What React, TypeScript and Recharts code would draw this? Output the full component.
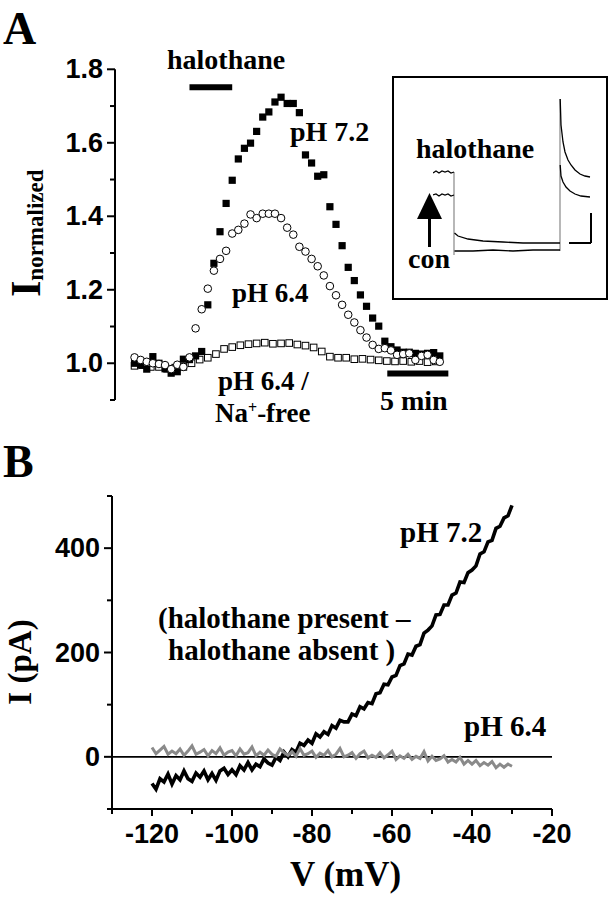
import React from 'react';
import { ScatterChart, Scatter, XAxis, YAxis, ReferenceLine, LineChart, Line } from 'recharts';

// ---------- Panel A: normalized current vs time ----------
const PH72_INTERVAL_MIN = 0.5;
const PH72_VALUES = [
  1.0, 0.995, 0.984, 1.018, 1.0, 0.985, 0.973, 0.977, 1.011, 1.01, 1.02, 1.032,
  1.159, 1.272, 1.358, 1.435, 1.498, 1.556, 1.585, 1.599, 1.631, 1.67, 1.684, 1.711,
  1.724, 1.707, 1.707, 1.682, 1.567, 1.545, 1.509, 1.513, 1.426, 1.378, 1.32, 1.261,
  1.225, 1.186, 1.155, 1.123, 1.101, 1.06, 1.045, 1.036, 1.03, 1.03, 1.027, 1.025,
  1.027, 1.029, 1.02,
];
const PH64_INTERVAL_MIN = 0.5;
const PH64_VALUES = [
  1.016, 1.009, 1.004, 1.0, 0.998, 0.995, 0.984, 0.996, 0.99, 1.016, 1.095, 1.147,
  1.203, 1.252, 1.284, 1.306, 1.353, 1.363, 1.38, 1.405, 1.395, 1.407, 1.407, 1.407,
  1.395, 1.369, 1.35, 1.317, 1.304, 1.284, 1.264, 1.239, 1.21, 1.185, 1.159, 1.132,
  1.111, 1.09, 1.07, 1.05, 1.039, 1.041, 1.035, 1.023, 1.025, 1.027, 1.009, 1.02,
  1.023, 1.009, 1.004,
];
const NAFREE_INTERVAL_MIN = 2 / 3;
const NAFREE_VALUES = [
  0.993, 0.995, 0.99, 0.99, 0.985, 0.988, 0.99, 1.0, 1.01, 1.015, 1.025, 1.039,
  1.044, 1.049, 1.052, 1.054, 1.056, 1.053, 1.054, 1.055, 1.051, 1.048, 1.043, 1.032,
  1.018, 1.015, 1.015, 1.011, 1.012, 1.01, 1.008, 1.006, 1.005, 1.006, 1.004, 1.006,
  1.003, 1.005,
];
const HALOTHANE_BAR_MIN = [4.5, 8.0];
const HALOTHANE_BAR_LEVEL = 1.751;
const FIVE_MIN_BAR = [20.7, 25.7];
const FIVE_MIN_BAR_LEVEL = 0.972;
const A_Y_TICKS = [0.9, 1.0, 1.1, 1.2, 1.3, 1.4, 1.5, 1.6, 1.7, 1.8];
const A_Y_LABELED = [1.0, 1.2, 1.4, 1.6, 1.8];

// ---------- Inset: raw current traces ----------
const INSET_HALO_PRE_T = [0, 3, 6, 9, 12, 15, 18, 21];
const INSET_HALO_PRE_I = [87, 89, 87, 89, 88, 89, 87, 88];
const INSET_HALO_MID_T = [21.5, 25, 35, 50, 70, 90, 110, 127];
const INSET_HALO_MID_I = [27, 24, 21, 19, 18, 17, 17, 17];
const INSET_HALO_POST_T = [127.2, 128, 130, 132, 135, 138, 142, 147, 152, 157];
const INSET_HALO_POST_I = [161, 135, 118, 108, 100, 95, 90, 86, 84, 83];
const INSET_CON_PRE_T = [0, 3, 6, 9, 12, 15, 18, 21];
const INSET_CON_PRE_I = [65, 66, 64, 66, 65, 66, 64, 65];
const INSET_CON_MID_T = [21.5, 40, 60, 80, 100, 127];
const INSET_CON_MID_I = [9, 9, 10, 9, 10, 10];
const INSET_CON_POST_T = [127.2, 128, 130, 133, 137, 142, 148, 157];
const INSET_CON_POST_I = [95, 84, 78, 73, 69, 66, 64, 63];
const INSET_STEP1_T = [21, 21];
const INSET_STEP1_I = [88, 5];
const INSET_STEP2_T = [127, 127];
const INSET_STEP2_I = [9, 161];

// ---------- Panel B: I-V (one value per mV from -120 to -30) ----------
const B_V_START = -120;
const B_PH72 = [
  -51, -62, -42, -48, -33, -52, -36, -44, -27, -42,
  -47, -31, -39, -27, -44, -32, -45, -27, -22, -34,
  -25, -34, -17, -25, -11, -25, -14, -19, -4, -12,
  -16, -1, -7, 9, 0, 14, 9, 26, 22, 32,
  26, 44, 38, 48, 43, 60, 55, 70, 67, 67,
  82, 79, 96, 92, 104, 102, 121, 123, 139, 138,
  153, 156, 175, 178, 197, 195, 212, 215, 237, 243,
  251, 272, 273, 291, 291, 310, 314, 335, 334, 353,
  358, 366, 389, 393, 412, 415, 438, 442, 458, 462,
  482,
];
const B_PH64 = [
  18, 6, 13, 20, 5, 11, 6, 15, 3, 11,
  21, 5, 9, 14, 2, 12, 6, 17, 3, 9,
  12, 2, 15, 5, 8, 19, 2, 9, 3, 13,
  5, 1, 15, 8, 3, 10, 1, 16, 3, 6,
  11, -1, 7, 3, 12, 0, 5, 16, 0, 3,
  8, -3, 6, 11, -2, 3, -1, 8, -2, 4,
  11, -5, 2, -3, 5, -5, 1, -3, 10, -8,
  1, -7, -4, 2, -10, -5, -10, -1, -14, -7,
  -14, -7, -17, -11, -16, -9, -21, -14, -20, -14,
  -18,
];
const B_X_TICKS = [-130, -120, -110, -100, -90, -80, -70, -60, -50, -40, -30, -20];
const B_X_LABELED = [-120, -100, -80, -60, -40, -20];
const B_Y_TICKS = [-100, 0, 100, 200, 300, 400, 500];
const B_Y_LABELED = [0, 200, 400];

// ---------- tables built from the arrays ----------
const series = (vals: number[], step: number) => vals.map((v, k) => ({ t: k * step, v }));
const ph72Data = series(PH72_VALUES, PH72_INTERVAL_MIN);
const ph64Data = series(PH64_VALUES, PH64_INTERVAL_MIN);
const naFreeData = series(NAFREE_VALUES, NAFREE_INTERVAL_MIN);
const pair = (ts: number[], is: number[]) => ts.map((t, k) => ({ t, i: is[k] }));
const bBlack = B_PH72.map((i, k) => ({ v: B_V_START + k, i }));
const bGray = B_PH64.map((i, k) => ({ v: B_V_START + k, i }));

const SERIF = "'Liberation Serif', 'Times New Roman', serif";
const SANS = "'Liberation Sans', Arial, sans-serif";

const near = (a: number, list: number[]) => list.some((b) => Math.abs(a - b) < 1e-6);

const LeftTick = (props: any) => {
  const { x, y, payload, labeled, digits } = props;
  const major = near(payload.value, labeled);
  return (
    <g>
      <line x1={x} x2={x - (major ? 8 : 5)} y1={y} y2={y} stroke="#000" strokeWidth={2} />
      {major && (
        <text x={x - 12} y={y} textAnchor="end" dominantBaseline="central" fontFamily={SANS}
          fontWeight="bold" fontSize={27} fill="#000">
          {payload.value.toFixed(digits)}
        </text>
      )}
    </g>
  );
};

const BottomTick = (props: any) => {
  const { x, y, payload, labeled } = props;
  const major = near(payload.value, labeled);
  return (
    <g>
      <line x1={x} x2={x} y1={y} y2={y + (major ? 7 : 5)} stroke="#000" strokeWidth={2} />
      {major && (
        <text x={x} y={y + 25} textAnchor="middle" dominantBaseline="central" fontFamily={SANS}
          fontWeight="bold" fontSize={27} fill="#000">
          {String(payload.value)}
        </text>
      )}
    </g>
  );
};

const FilledSquare = (p: any) => <rect x={p.cx - 3.6} y={p.cy - 3.6} width={7.2} height={7.2} fill="#000" />;
const OpenCircle = (p: any) => <circle cx={p.cx} cy={p.cy} r={3.8} fill="#fff" stroke="#000" strokeWidth={1} />;
const OpenSquare = (p: any) => (
  <rect x={p.cx - 3.3} y={p.cy - 3.3} width={6.6} height={6.6} fill="#fff" stroke="#000" strokeWidth={1} />
);

const T = (props: any) => {
  const { x, y, size, children, anchor, ...rest } = props;
  return (
    <text x={x} y={y} fontFamily={SERIF} fontWeight="bold" fontSize={size} fill="#000"
      textAnchor={anchor || 'start'} {...rest}>
      {children}
    </text>
  );
};

export default function App() {
  return (
    <div style={{ position: 'absolute', left: 0, top: 0, width: 611, height: 900, background: '#fff', overflow: 'hidden' }}>
      {/* Panel A */}
      <div style={{ position: 'absolute', left: 0, top: 0 }}>
        <ScatterChart width={611} height={440} margin={{ top: 69.3, right: 159, bottom: 40, left: 0 }}>
          <XAxis type="number" dataKey="t" domain={[-1.6, 26]} hide allowDataOverflow />
          <YAxis type="number" dataKey="v" domain={[0.9, 1.8]} width={115} ticks={A_Y_TICKS} interval={0}
            allowDataOverflow axisLine={{ stroke: '#000', strokeWidth: 2 }} tickLine={false}
            tickSize={0} tickMargin={0}
            tick={(p: any) => <LeftTick {...p} labeled={A_Y_LABELED} digits={1} />} />
          <ReferenceLine segment={[{ x: HALOTHANE_BAR_MIN[0], y: HALOTHANE_BAR_LEVEL }, { x: HALOTHANE_BAR_MIN[1], y: HALOTHANE_BAR_LEVEL }]}
            stroke="#000" strokeWidth={6} ifOverflow="visible" />
          <ReferenceLine segment={[{ x: FIVE_MIN_BAR[0], y: FIVE_MIN_BAR_LEVEL }, { x: FIVE_MIN_BAR[1], y: FIVE_MIN_BAR_LEVEL }]}
            stroke="#000" strokeWidth={6} ifOverflow="visible" />
          <Scatter data={naFreeData} dataKey="v" shape={OpenSquare} isAnimationActive={false} />
          <Scatter data={ph72Data} dataKey="v" shape={FilledSquare} isAnimationActive={false} />
          <Scatter data={ph64Data} dataKey="v" shape={OpenCircle} isAnimationActive={false} />
        </ScatterChart>
      </div>

      {/* Inset */}
      <div style={{ position: 'absolute', left: 392, top: 76 }}>
        <LineChart width={216} height={224} margin={{ top: 19, right: 15, bottom: 40, left: 41 }}>
          <XAxis type="number" dataKey="t" domain={[0, 160]} hide allowDataOverflow />
          <YAxis type="number" dataKey="i" domain={[0, 165]} hide allowDataOverflow />
          <Line data={pair(INSET_STEP1_T, INSET_STEP1_I)} dataKey="i" stroke="#888" strokeWidth={1.2} dot={false} isAnimationActive={false} />
          <Line data={pair(INSET_STEP2_T, INSET_STEP2_I)} dataKey="i" stroke="#888" strokeWidth={1.2} dot={false} isAnimationActive={false} />
          <Line data={pair(INSET_HALO_PRE_T, INSET_HALO_PRE_I)} dataKey="i" stroke="#000" strokeWidth={1.3} dot={false} isAnimationActive={false} />
          <Line data={pair(INSET_HALO_MID_T, INSET_HALO_MID_I)} dataKey="i" stroke="#000" strokeWidth={1.3} dot={false} isAnimationActive={false} />
          <Line data={pair(INSET_HALO_POST_T, INSET_HALO_POST_I)} dataKey="i" stroke="#000" strokeWidth={1.3} dot={false} isAnimationActive={false} />
          <Line data={pair(INSET_CON_PRE_T, INSET_CON_PRE_I)} dataKey="i" stroke="#000" strokeWidth={1.3} dot={false} isAnimationActive={false} />
          <Line data={pair(INSET_CON_MID_T, INSET_CON_MID_I)} dataKey="i" stroke="#000" strokeWidth={1.3} dot={false} isAnimationActive={false} />
          <Line data={pair(INSET_CON_POST_T, INSET_CON_POST_I)} dataKey="i" stroke="#000" strokeWidth={1.3} dot={false} isAnimationActive={false} />
          <ReferenceLine segment={[{ x: 158, y: 47 }, { x: 158, y: 17 }]} stroke="#000" strokeWidth={2} ifOverflow="visible" />
          <ReferenceLine segment={[{ x: 136, y: 17 }, { x: 158, y: 17 }]} stroke="#000" strokeWidth={2} ifOverflow="visible" />
        </LineChart>
      </div>
      <div style={{ position: 'absolute', left: 392, top: 76, width: 216, height: 224, border: '2px solid #000', boxSizing: 'border-box', pointerEvents: 'none' }} />

      {/* Panel B */}
      <div style={{ position: 'absolute', left: 0, top: 440 }}>
        <LineChart width={611} height={460} margin={{ top: 56, right: 59, bottom: 0, left: 0 }}>
          <XAxis type="number" dataKey="v" domain={[-130, -20]} ticks={B_X_TICKS} interval={0} height={91}
            allowDataOverflow axisLine={{ stroke: '#000', strokeWidth: 2 }} tickLine={false}
            tickSize={0} tickMargin={0}
            tick={(p: any) => <BottomTick {...p} labeled={B_X_LABELED} />} />
          <YAxis type="number" dataKey="i" domain={[-100, 500]} ticks={B_Y_TICKS} interval={0} width={112}
            allowDataOverflow axisLine={{ stroke: '#000', strokeWidth: 2 }} tickLine={false}
            tickSize={0} tickMargin={0}
            tick={(p: any) => <LeftTick {...p} labeled={B_Y_LABELED} digits={0} />} />
          <ReferenceLine y={0} stroke="#000" strokeWidth={1.8} />
          <Line data={bBlack} dataKey="i" stroke="#000" strokeWidth={3.6} dot={false} isAnimationActive={false} type="linear" />
          <Line data={bGray} dataKey="i" stroke="#8a8a8a" strokeWidth={3} dot={false} isAnimationActive={false} type="linear" />
        </LineChart>
      </div>

      {/* Annotations */}
      <svg width={611} height={900} style={{ position: 'absolute', left: 0, top: 0, pointerEvents: 'none' }}>
        <T x={3} y={44} size={46}>A</T>
        <text transform="translate(40,297) rotate(-90)" fontFamily={SERIF} fontWeight="bold" fill="#000">
          <tspan fontSize={42}>I</tspan>
          <tspan fontSize={23} dy={3}>normalized</tspan>
        </text>
        <T x={167} y={69} size={28}>halothane</T>
        <T x={290} y={141} size={28}>pH 7.2</T>
        <T x={232} y={302} size={27}>pH 6.4</T>
        <T x={218} y={390} size={27}>pH 6.4 /</T>
        <T x={215} y={422} size={27}>
          <tspan>Na</tspan>
          <tspan fontSize={16} dy={-9}>+</tspan>
          <tspan dy={9}>-free</tspan>
        </T>
        <T x={380} y={410} size={28}>5 min</T>

        <T x={416} y={158} size={28}>halothane</T>
        <T x={408} y={268} size={28}>con</T>
        <polygon points="417,219 442,219 429.5,193" fill="#000" />
        <rect x={428} y={218} width={3} height={29} fill="#000" />

        <T x={3} y={477} size={46}>B</T>
        <T x={400} y={542} size={29}>pH 7.2</T>
        <T x={158} y={628} size={29}>(halothane present –</T>
        <T x={168} y={660} size={29}>halothane absent )</T>
        <T x={464} y={736} size={29}>pH 6.4</T>
        <T x={290} y={886} size={35}>V (mV)</T>
        <T x={31} y={662} size={33} anchor="middle" transform="rotate(-90 31 662)">I (pA)</T>
      </svg>
    </div>
  );
}
